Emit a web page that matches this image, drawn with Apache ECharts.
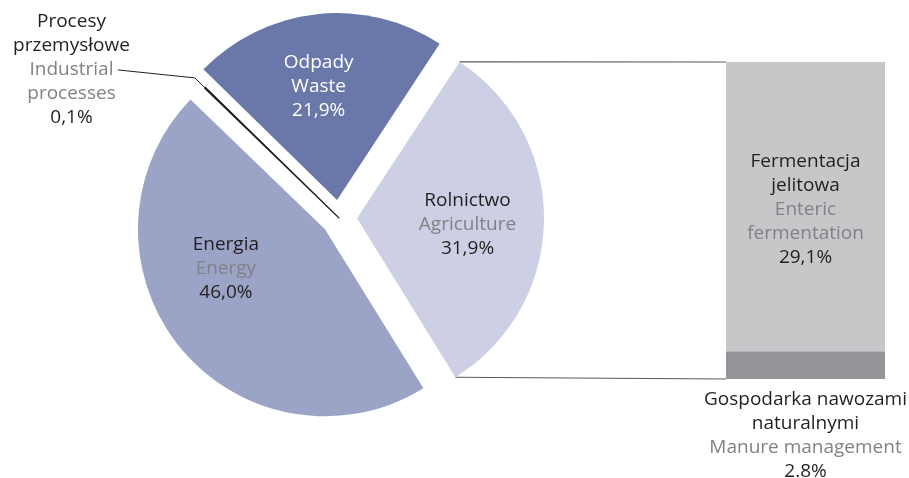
<!DOCTYPE html>
<html>
<head>
<meta charset="utf-8">
<script src="https://cdn.jsdelivr.net/npm/echarts@6/dist/echarts.min.js"></script>
<style>
  html, body { margin: 0; padding: 0; background: #ffffff; }
  #chart { width: 909px; height: 478px; }
</style>
</head>
<body>
<div id="chart"></div>
<script>
// Greenhouse gas emissions by sector, share of total (%)
const sectorNamesPl = ['Procesy\nprzemysłowe', 'Odpady', 'Rolnictwo', 'Energia'];
const sectorNamesEn = ['Industrial\nprocesses', 'Waste', 'Agriculture', 'Energy'];
const sectorValues = [0.1, 21.9, 31.9, 46.0];

// Agriculture broken down into its two sources (%), bottom to top
const agriNamesPl = ['Gospodarka nawozami\nnaturalnymi', 'Fermentacja\njelitowa'];
const agriNamesEn = ['Manure management', 'Enteric\nfermentation'];
const agriValues = [2.8, 29.1];
const agriDecimalMarks = ['.', ','];

// Styling
const FONT = '"Open Sans", "Noto Sans", sans-serif';
const DARK = '#231f20';
const GREY = '#808285';
const sectorColors = ['#231f20', '#6a78a9', '#cdd0e4', '#9ba3c6'];
const agriColors = ['#939598', '#c6c7c9'];
const PIE_CENTER = [339, 218];
const PIE_RADIUS = 187;
const PIE_START = 136;
const PIE_OFFSET = 18;
const GRID = { left: 726, width: 159, top: 62, bottom: 99 };
// label nudges for the sector labels (dx, dy)
const labelNudge = [[0, -4], [-8, -18], [14, 5], [-24, -21]];
// how far the leader line rises along its horizontal run
const LEADER_RISE = -8;

function fmt(v, mark) {
  return v.toFixed(1).replace('.', mark || ',') + '%';
}

function richSet(plColor, enColor, valColor) {
  const base = { fontFamily: FONT, fontSize: 19, lineHeight: 24, align: 'center' };
  return {
    pl: Object.assign({}, base, { color: plColor }),
    en: Object.assign({}, base, { color: enColor }),
    val: Object.assign({}, base, { color: valColor })
  };
}

const chart = echarts.init(document.getElementById('chart'), null, { renderer: 'canvas' });

const pieData = sectorValues.map(function (v, i) {
  const item = {
    value: v,
    name: sectorNamesEn[i],
    selected: true,
    itemStyle: { color: sectorColors[i] }
  };
  if (i === 0) {
    // the tiny industrial share stays in place and is called out with a leader line
    item.selected = false;
    item.itemStyle = { color: DARK, borderColor: DARK, borderWidth: 1.1 };
    item.label = {
      position: 'outside',
      distanceToLabelLine: -12,
      rich: richSet(DARK, GREY, DARK)
    };
    item.labelLine = {
      show: true,
      length: 14,
      length2: 77,
      lineStyle: { color: DARK, width: 1 }
    };
  } else if (i === 1) {
    item.label = { rich: richSet('#ffffff', '#ffffff', '#ffffff') };
  }
  return item;
});

const sum = agriValues.reduce(function (a, b) { return a + b; }, 0);

const option = {
  animation: false,
  backgroundColor: '#ffffff',
  grid: { left: GRID.left, width: GRID.width, top: GRID.top, bottom: GRID.bottom, containLabel: false },
  xAxis: { type: 'category', data: ['Rolnictwo'], show: false },
  yAxis: { type: 'value', min: 0, max: sum, show: false },
  series: [
    {
      type: 'pie',
      center: PIE_CENTER,
      radius: PIE_RADIUS,
      startAngle: PIE_START,
      clockwise: true,
      selectedMode: 'multiple',
      selectedOffset: PIE_OFFSET,
      avoidLabelOverlap: false,
      silent: true,
      emphasis: { disabled: true },
      label: {
        show: true,
        position: 'inside',
        formatter: function (p) {
          const i = p.dataIndex;
          return '{pl|' + sectorNamesPl[i] + '}\n{en|' + sectorNamesEn[i] + '}\n{val|' + fmt(p.value) + '}';
        },
        rich: richSet(DARK, GREY, DARK)
      },
      labelLine: { show: false },
      labelLayout: function (p) {
        const n = labelNudge[p.dataIndex] || [0, 0];
        const out = { dx: n[0], dy: n[1] };
        const pts = p.labelLinePoints;
        if (pts && pts.length === 3) {
          // let the second leader segment rise gently towards the label
          out.labelLinePoints = [pts[0], pts[1], [pts[2][0], pts[2][1] + LEADER_RISE]];
        }
        return out;
      },
      data: pieData
    },
    {
      type: 'bar',
      stack: 'agri',
      barWidth: '100%',
      silent: true,
      itemStyle: { color: agriColors[0] },
      label: {
        show: true,
        position: 'bottom',
        distance: 9,
        formatter: function (p) {
          return '{pl|' + agriNamesPl[0] + '}\n{en|' + agriNamesEn[0] + '}\n{val|' + fmt(p.value, agriDecimalMarks[0]) + '}';
        },
        rich: richSet(DARK, GREY, DARK)
      },
      data: [agriValues[0]]
    },
    {
      type: 'bar',
      stack: 'agri',
      barWidth: '100%',
      silent: true,
      itemStyle: { color: agriColors[1] },
      label: {
        show: true,
        position: 'inside',
        offset: [0, 3],
        formatter: function (p) {
          return '{pl|' + agriNamesPl[1] + '}\n{en|' + agriNamesEn[1] + '}\n{val|' + fmt(p.value, agriDecimalMarks[1]) + '}';
        },
        rich: richSet(DARK, GREY, DARK)
      },
      data: [agriValues[1]]
    }
  ]
};

chart.setOption(option);

// Connector lines from the agriculture slice's outer corners to the bar's corners
(function drawConnectors() {
  const total = sectorValues.reduce(function (a, b) { return a + b; }, 0);
  const RAD = Math.PI / 180;
  let angle = -PIE_START * RAD;
  const agriIdx = 2;
  let start = 0, end = 0;
  for (let i = 0; i <= agriIdx; i++) {
    const span = sectorValues[i] / total * Math.PI * 2;
    if (i === agriIdx) { start = angle; end = angle + span; }
    angle += span;
  }
  const mid = (start + end) / 2;
  const ox = PIE_CENTER[0] + Math.cos(mid) * PIE_OFFSET;
  const oy = PIE_CENTER[1] + Math.sin(mid) * PIE_OFFSET;
  const topPt = [ox + Math.cos(start) * PIE_RADIUS, oy + Math.sin(start) * PIE_RADIUS];
  const botPt = [ox + Math.cos(end) * PIE_RADIUS, oy + Math.sin(end) * PIE_RADIUS];
  const barTop = chart.convertToPixel({ yAxisIndex: 0 }, sum);
  const barBot = chart.convertToPixel({ yAxisIndex: 0 }, 0);
  const barLeft = GRID.left;
  const lineStyle = { stroke: '#5a5b5d', lineWidth: 1.2 };
  chart.setOption({
    graphic: [
      { type: 'line', silent: true, shape: { x1: topPt[0], y1: topPt[1], x2: barLeft, y2: barTop }, style: lineStyle },
      { type: 'line', silent: true, shape: { x1: botPt[0], y1: botPt[1], x2: barLeft, y2: barBot }, style: lineStyle }
    ]
  });
})();
</script>
</body>
</html>
